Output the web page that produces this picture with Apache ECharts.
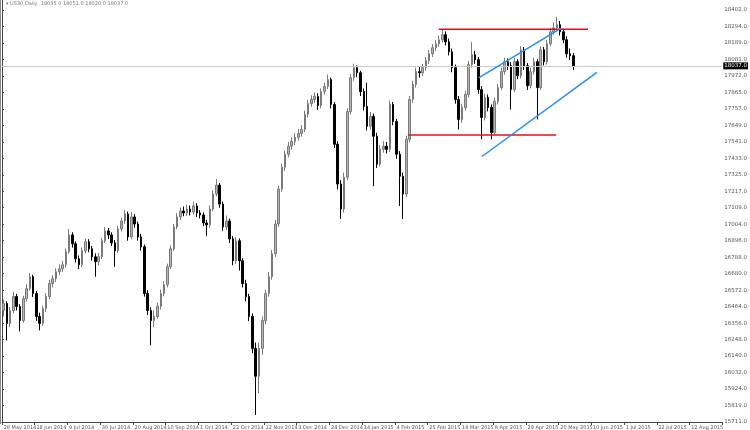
<!DOCTYPE html>
<html>
<head>
<meta charset="utf-8">
<script src="https://cdn.jsdelivr.net/npm/echarts@6/dist/echarts.min.js"></script>
<style>html,body{margin:0;padding:0;background:#fff;}#chart{width:750px;height:430px;}</style>
</head>
<body>
<div id="chart"></div>
<script>
// ---- data ----
const titleText = '\u25BE US30,Daily  18035.0 18051.0 18020.0 18037.0';
const yTickLabels = ['15711.0','15819.0','15924.0','16032.0','16140.0','16248.0','16356.0','16464.0','16572.0','16680.0','16788.0','16896.0','17004.0','17109.0','17217.0','17325.0','17433.0','17541.0','17649.0','17757.0','17865.0','17972.0','18081.0','18189.0','18294.0','18402.0'];
const xTickLabels = ['28 May 2014','18 Jun 2014','9 Jul 2014','30 Jul 2014','20 Aug 2014','10 Sep 2014','1 Oct 2014','22 Oct 2014','12 Nov 2014','3 Dec 2014','24 Dec 2014','14 Jan 2015','4 Feb 2015','25 Feb 2015','18 Mar 2015','8 Apr 2015','29 Apr 2015','20 May 2015','10 Jun 2015','1 Jul 2015','22 Jul 2015','12 Aug 2015'];
const totalSlots = 220;
const opens = [16440,16485,16355,16439,16530,16465,16374,16517,16582,16660,16550,16400,16355,16452,16530,16615,16647,16692,16712,16738,16823,16933,16875,16777,16738,16829,16888,16842,16790,16758,16790,16894,16959,16933,16881,16829,16972,17024,17070,16920,17050,17004,16920,16855,16550,16439,16374,16400,16465,16550,16608,16725,16842,16985,17050,17089,17076,17102,17083,17122,17076,17063,17011,16998,17102,17200,17258,17134,16985,17024,16907,16764,16894,16764,16615,16530,16400,16192,16010,16192,16374,16550,16660,16810,17004,17232,17375,17460,17512,17544,17570,17596,17622,17720,17791,17817,17837,17778,17869,17902,17947,17785,17525,17265,17102,17310,17739,17960,18025,17992,17869,17772,17642,17707,17577,17395,17492,17512,17492,17785,17674,17460,17316,17200,17557,17817,17915,17999,17992,18025,18071,18116,18155,18181,18207,18240,18194,18129,18025,17817,17687,17765,17850,18045,18110,18077,17882,17700,17830,17765,17602,17804,17895,17999,18064,18038,17882,18064,17973,18142,18038,17908,17999,18064,17895,18142,18064,18181,18259,18285,18305,18259,18207,18116,18103];
const closes = [16485,16355,16439,16530,16465,16374,16517,16582,16660,16550,16400,16355,16452,16530,16615,16647,16692,16712,16738,16823,16933,16875,16777,16738,16829,16888,16842,16790,16758,16790,16894,16959,16933,16881,16829,16972,17024,17070,16920,17050,17004,16920,16855,16550,16439,16374,16400,16465,16550,16608,16725,16842,16985,17050,17089,17076,17102,17083,17122,17076,17063,17011,16998,17102,17200,17258,17134,16985,17024,16907,16764,16894,16764,16615,16530,16400,16192,16010,16192,16374,16550,16660,16810,17004,17232,17375,17460,17512,17544,17570,17596,17622,17720,17791,17817,17837,17778,17869,17902,17947,17785,17525,17265,17102,17310,17739,17960,18025,17992,17869,17772,17642,17707,17577,17395,17492,17512,17492,17785,17674,17460,17316,17200,17557,17817,17915,17999,17992,18025,18071,18116,18155,18181,18207,18240,18194,18129,18025,17817,17687,17765,17850,18045,18110,18077,17882,17700,17830,17765,17602,17804,17895,17999,18064,18038,17882,18064,17973,18142,18038,17908,17999,18064,17895,18142,18064,18181,18259,18285,18305,18259,18207,18116,18103,18037];
const lows = [16400,16244,16330,16420,16440,16302,16360,16498,16570,16528,16372,16309,16338,16430,16512,16590,16625,16670,16690,16720,16810,16850,16752,16710,16722,16812,16820,16765,16660,16735,16775,16880,16905,16860,16725,16815,16955,17005,16895,16905,16980,16895,16830,16530,16410,16212,16330,16385,16445,16532,16590,16710,16828,16970,17030,17055,17058,17060,17066,17050,17040,16990,16927,16980,17088,17185,17110,16960,16965,16880,16735,16745,16700,16590,16500,16370,16160,15757,15900,16150,16350,16530,16640,16790,16985,17215,17350,17440,17490,17520,17548,17575,17605,17700,17770,17795,17750,17760,17850,17885,17760,17500,17230,17037,17080,17290,17720,17940,17965,17840,17745,17615,17620,17251,17370,17380,17470,17465,17475,17650,17430,17122,17037,17180,17540,17795,17895,17960,17970,18005,18050,18095,18135,18160,18190,18170,18105,17995,17790,17622,17665,17745,17830,18025,18050,17855,17557,17680,17740,17557,17585,17785,17880,17980,18010,17752,17865,17950,17955,18010,17880,17890,17980,17687,17880,18040,18045,18165,18240,18265,18235,18185,18090,18075,18010];
const highs = [16510,16500,16462,16561,16548,16480,16535,16610,16684,16672,16566,16425,16470,16552,16640,16668,16715,16740,16762,16845,16972,16950,16890,16798,16850,16910,16905,16860,16812,16815,16915,16985,16978,16950,16900,16990,17045,17095,17085,17082,17068,17020,16940,16870,16572,16460,16440,16490,16575,16630,16745,16865,17005,17075,17112,17118,17130,17125,17150,17140,17095,17080,17030,17125,17225,17297,17272,17150,17060,17040,16925,16920,16910,16780,16640,16548,16420,16230,16230,16400,16575,16690,16835,17030,17255,17400,17485,17540,17570,17598,17625,17650,17745,17815,17845,17862,17858,17890,17928,17980,17960,17800,17545,17290,17340,17760,17985,18051,18040,18005,17890,17927,17735,17725,17600,17520,17545,17540,17810,17800,17690,17480,17340,17580,17840,17940,18025,18030,18050,18095,18140,18180,18205,18235,18272,18262,18215,18150,18045,17840,17790,17875,18070,18194,18135,18095,17905,17855,17850,17785,17830,17920,18025,18090,18085,18060,18090,18080,18165,18160,18055,18025,18090,18080,18165,18160,18205,18285,18320,18357,18330,18280,18230,18150,18120];
const currentPrice = 18037;
const currentPriceLabel = '18037.0';
// horizontal levels: [slot, price]
const redTop = [[133.4, 18276], [179.0, 18276]];
const redBottom = [[124.1, 17585], [169.3, 17585]];
// channel lines
const blueUpper = [[145.6, 17958], [170.8, 18283]];
const blueLower = [[146.6, 17445], [181.7, 17994]];
const yMin = 15711, yMax = 18467, yInterval = 107.64;

// ---- build ----
const categories = [];
for (let i = 0; i < totalSlots; i++) categories.push('d' + i);
const candleData = opens.map((o, i) => [o, closes[i], lows[i], highs[i]]);

const chart = echarts.init(document.getElementById('chart'), null, {renderer: 'canvas'});
const lineSeries = (data, color) => ({
  type: 'line', xAxisIndex: 1, yAxisIndex: 0, data: data, showSymbol: false, symbol: 'none',
  silent: true, z: 5, lineStyle: {color: color, width: 1.5}, animation: false
});
chart.setOption({
  animation: false,
  backgroundColor: '#ffffff',
  grid: {left: 2, right: 23, top: 0, bottom: 6, containLabel: false},
  graphic: [
    {type: 'text', left: 6, top: 1, style: {text: titleText, fontSize: 5, fill: '#777', fontFamily: 'DejaVu Sans'}},
    {type: 'line', shape: {x1: 0.5, y1: 0, x2: 0.5, y2: 424}, style: {stroke: '#888', lineWidth: 1}},
    {type: 'line', shape: {x1: 2.5, y1: 0, x2: 2.5, y2: 424}, style: {stroke: '#888', lineWidth: 1}}
  ],
  xAxis: [{
    type: 'category', data: categories, boundaryGap: true,
    axisLine: {show: true, lineStyle: {color: '#444', width: 1}},
    axisTick: {show: true, interval: 9, length: 3, alignWithLabel: false, lineStyle: {color: '#444'}},
    axisLabel: {
      show: true, interval: 9, fontSize: 5, color: '#555', margin: 3, align: 'left',
      fontFamily: 'DejaVu Sans',
      formatter: (v, idx) => (idx % 10 === 0 && xTickLabels[idx / 10]) ? xTickLabels[idx / 10] : ''
    },
    splitLine: {show: false}
  }, {
    type: 'value', min: 0, max: totalSlots, show: false
  }],
  yAxis: [{
    type: 'value', position: 'right', min: yMin, max: yMax, interval: yInterval, scale: true,
    axisLine: {show: true, lineStyle: {color: '#444', width: 1}},
    axisTick: {show: true, length: 2, lineStyle: {color: '#444'}},
    axisLabel: {
      show: true, fontSize: 5.5, color: '#555', margin: 2, showMaxLabel: false, fontFamily: 'DejaVu Sans',
      formatter: v => { const k = Math.round((v - yMin) / yInterval); return yTickLabels[k] || ''; }
    },
    splitLine: {show: false}
  }],
  series: [
    {
      type: 'line', xAxisIndex: 1, yAxisIndex: 0, data: [], z: 1, silent: true,
      markLine: {
        silent: true, symbol: ['none', 'none'], animation: false,
        lineStyle: {color: '#c8c8c8', width: 1, type: 'solid'},
        label: {show: true, position: 'end', formatter: currentPriceLabel, color: '#fff',
          backgroundColor: '#000', fontSize: 5.5, padding: [1, 1, 0, 1], distance: 1, fontFamily: 'DejaVu Sans'},
        data: [{yAxis: currentPrice}]
      }
    },
    {
      type: 'candlestick', xAxisIndex: 0, yAxisIndex: 0, data: candleData, z: 3,
      barWidth: 2,
      itemStyle: {color: '#b4b4b4', color0: '#000000', borderColor: '#7a7a7a', borderColor0: '#000000', borderWidth: 1}
    },
    lineSeries(redTop, '#e01010'),
    lineSeries(redBottom, '#e01010'),
    lineSeries(blueUpper, '#2a8cf0'),
    lineSeries(blueLower, '#2a8cf0')
  ]
});
</script>
</body>
</html>
